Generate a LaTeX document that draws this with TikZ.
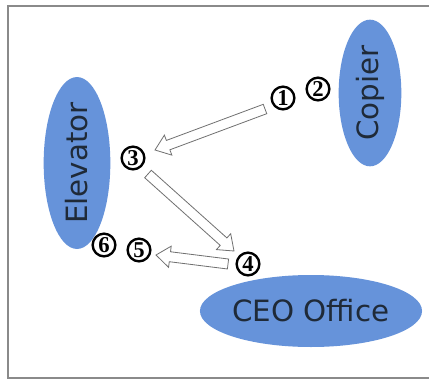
\documentclass[tikz,border=0pt]{standalone}
\usepackage{fontspec}
\setmainfont{DejaVu Sans}
\newfontfamily\numfont{Liberation Serif}
\usetikzlibrary{shapes.geometric,calc}
\definecolor{ellblue}{HTML}{6693DA}
\definecolor{txtcol}{HTML}{1F2A38}
\definecolor{framegray}{HTML}{8A8A8A}
\definecolor{arrgray}{HTML}{707070}
\tikzset{
  place/.style={ellipse, fill=ellblue, draw=none, text=txtcol, inner sep=0pt,
    font=\fontsize{22}{24}\selectfont},
  num/.style={circle, draw=black, line width=1.8pt, inner sep=0pt, minimum size=17pt,
    font=\numfont\bfseries\fontsize{17}{17}\selectfont},
  harrow/.style={draw=arrgray, fill=white, line width=0.6pt, line join=miter},
}
\newcommand\hollowarrow[2]{%
  \coordinate (hb) at ($(#2)!10.5pt!(#1)$);
  \draw[harrow] ($(#1)!3.75pt!90:(#2)$) -- ($(hb)!3.75pt!90:(#2)$)
    -- ($(hb)!8pt!90:(#2)$) -- (#2) -- ($(hb)!8pt!-90:(#2)$)
    -- ($(hb)!3.75pt!-90:(#2)$) -- ($(#1)!3.75pt!-90:(#2)$) -- cycle;}
\begin{document}
\begin{tikzpicture}[x=0.75pt,y=-0.75pt]
  \useasboundingbox (0,0) rectangle (429,379);
  \fill[white] (0,0) rectangle (429,379);
  \draw[framegray, line width=0.8pt] (429,6) -- (8,6) -- (8,378) -- (429,378);

  \node[place, minimum width=50pt, minimum height=122pt] (elev) at (77,163) {\rotatebox{90}{Elevator}};
  \node[place, minimum width=47pt, minimum height=110pt] (copier) at (370,93) {\rotatebox{90}{Copier}};
  \node[place, minimum width=133pt, minimum height=54pt] (ceo) at (311,311) {CEO Office};

  \node[num] (n1) at (283,98) {1};
  \node[num] (n2) at (318,89) {2};
  \node[num] (n3) at (133,158) {3};
  \node[num] (n4) at (248,264) {4};
  \node[num] (n5) at (139,250) {5};
  \node[num] (n6) at (104,245) {6};

  \coordinate (a1s) at (265,109);
  \coordinate (a1e) at (155,150);
  \coordinate (a2s) at (148,174);
  \coordinate (a2e) at (234,251);
  \coordinate (a3s) at (228,264);
  \coordinate (a3e) at (156,255);

  \hollowarrow{a1s}{a1e}
  \hollowarrow{a2s}{a2e}
  \hollowarrow{a3s}{a3e}
\end{tikzpicture}
\end{document}
